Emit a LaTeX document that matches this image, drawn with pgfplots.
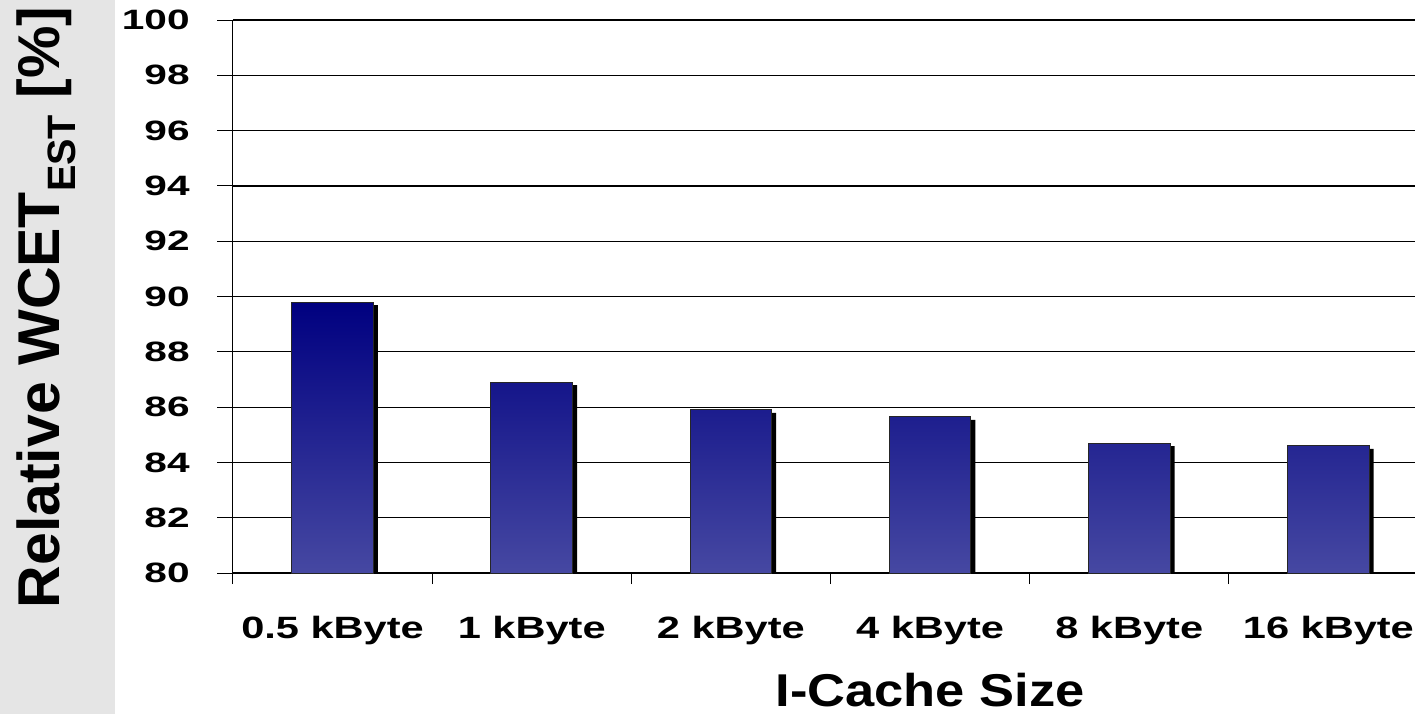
\documentclass[border=0pt]{standalone}
\usepackage{fontspec}
\usepackage{pgfplots}
\pgfplotsset{compat=1.18}
\setmainfont{Liberation Sans}
\newfontfamily\ytickfont[FakeStretch=1.45]{Liberation Sans}
\newfontfamily\xtickfont[FakeStretch=1.35]{Liberation Sans}
\newfontfamily\xlabelfont[FakeStretch=1.14]{Liberation Sans}
\definecolor{bandgray}{RGB}{229,229,229}
\definecolor{bartop}{RGB}{0,0,128}
\definecolor{barbottom}{RGB}{70,72,162}

\begin{document}
\begin{tikzpicture}
\useasboundingbox (0,0) rectangle (707.5pt,357pt);
% grey band behind the y label
\fill[bandgray] (0,0) rectangle (57.5pt,357pt);
\begin{axis}[
  at={(116.5pt,70.5pt)}, anchor=south west,
  scale only axis, width=597.5pt, height=276.5pt,
  xmin=-0.5, xmax=5.5, ymin=80, ymax=100,
  ybar, bar width=0.41,
  axis lines*=left,
  axis line style={black, line width=0.5pt},
  ytick={80,82,...,100},
  xtick={0,...,5},
  xticklabels={0.5 kByte, 1 kByte, 2 kByte, 4 kByte, 8 kByte, 16 kByte},
  minor xtick={-0.5,0.5,...,5.5},
  tick align=outside,
  major tick length=8pt, minor tick length=5.5pt,
  tick style={black, line width=0.5pt},
  major x tick style={draw=none},
  ymajorgrids, grid style={black, line width=0.6pt},
  /pgf/number format/assume math mode=true,
  yticklabel style={font=\ytickfont\bfseries\fontsize{14}{15}\selectfont,
    anchor=east, inner sep=0pt, xshift=-13.5pt},
  xticklabel style={font=\xtickfont\bfseries\fontsize{15.4}{16}\selectfont,
    anchor=base, inner sep=0pt, yshift=-24.5pt},
  ylabel={Relative WCET\raisebox{-8pt}{\fontsize{19.8}{20}\selectfont EST} [\%]},
  ylabel style={font=\bfseries\fontsize{29.5}{30}\selectfont,
    at={(axis description cs:-0.1448,0.4801)}, anchor=base},
  xlabel={I-Cache Size},
  xlabel style={font=\xlabelfont\bfseries\fontsize{23}{24}\selectfont,
    at={(axis description cs:0.5833,-0.2410)}, anchor=base, inner sep=0pt},
]
% drop shadow of the bars
\addplot[fill=black, draw=none, bar shift=0pt, xshift=2.25pt, yshift=-1.5pt]
  coordinates {(0,89.8) (1,86.9) (2,85.9) (3,85.65) (4,84.7) (5,84.6)};
% bars
\addplot[draw=black!85, line width=0.5pt, bar shift=0pt,
  top color=bartop, bottom color=barbottom]
  coordinates {(0,89.8) (1,86.9) (2,85.9) (3,85.65) (4,84.7) (5,84.6)};
\end{axis}
\end{tikzpicture}
\end{document}
